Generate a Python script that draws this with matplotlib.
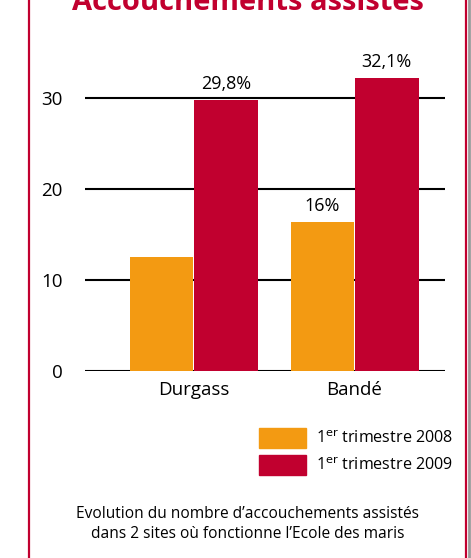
import numpy as np
import matplotlib.pyplot as plt
from matplotlib.lines import Line2D
from matplotlib.patches import Rectangle

plt.rcParams['font.family'] = ['Open Sans', 'DejaVu Sans']

# donnees
sites = ["Durgass", "Bandé"]
valeurs_2008 = [12.5, 16.4]
valeurs_2009 = [29.8, 32.2]
etiquettes_2008 = ["", "16%"]
etiquettes_2009 = ["29,8%", "32,1%"]
series = ["1$^{\\mathrm{er}}$ trimestre 2008", "1$^{\\mathrm{er}}$ trimestre 2009"]
graduations = [0, 10, 20, 30]

orange = "#F39A12"
rouge = "#C1002F"

fig = plt.figure(figsize=(4.71, 5.58), dpi=100)
ax = fig.add_axes([85/471, 1-371/558, 360/471, 34*9.1/558])

x = np.arange(len(sites))
larg = 0.395
ax.bar(x - 0.2, valeurs_2008, width=larg, color=orange, zorder=3)
ax.bar(x + 0.2, valeurs_2009, width=larg, color=rouge, zorder=3)

for i in range(len(sites)):
    if etiquettes_2008[i]:
        ax.annotate(etiquettes_2008[i], (x[i] - 0.2, valeurs_2008[i]), xytext=(0, 5),
                    textcoords="offset points", ha="center", va="bottom", fontsize=13)
    ax.annotate(etiquettes_2009[i], (x[i] + 0.2, valeurs_2009[i]), xytext=(0, 5),
                textcoords="offset points", ha="center", va="bottom", fontsize=13)

for g in graduations:
    ax.axhline(g, color="black", lw=1.5, zorder=2)

ax.set_xlim(-0.674, 1.562)
ax.set_ylim(0, 34)
ax.set_yticks(graduations)
ax.set_xticks(x)
ax.set_xticklabels(sites, fontsize=13.5)
ax.tick_params(axis="y", length=0, pad=16, labelsize=13.5)
ax.tick_params(axis="x", length=0, pad=7)
for s in ax.spines.values():
    s.set_visible(False)

# legende
for j, (c, lab) in enumerate(zip([orange, rouge], series)):
    y0 = 1 - (448 + 27*j)/558
    fig.patches.append(Rectangle((259/471, y0), 47/471, 20/558, transform=fig.transFigure,
                                 color=c, figure=fig))
    fig.text(316/471, y0 + 10/558, lab, va="center", ha="left", fontsize=11.6)

# titre coupe
fig.text(248/471, 1 - 10/558, "Accouchements assistés", ha="center", va="baseline",
         fontsize=21, fontweight="bold", color=rouge)

fig.text(248/471, 1 - 524/558,
         "Evolution du nombre d\u2019accouchements assistés\ndans 2 sites où fonctionne l\u2019Ecole des maris",
         ha="center", va="center", fontsize=11.2, linespacing=1.35)

# cadre
fig.lines.append(Line2D([28.5/471, 28.5/471], [0, 1], transform=fig.transFigure, color=rouge, lw=1.6))
fig.lines.append(Line2D([465.5/471, 465.5/471], [0, 1], transform=fig.transFigure, color=rouge, lw=1.6))
fig.lines.append(Line2D([468.5/471, 468.5/471], [0, 1], transform=fig.transFigure, color="#999999", lw=2))

fig.savefig("out.png", dpi=100)
